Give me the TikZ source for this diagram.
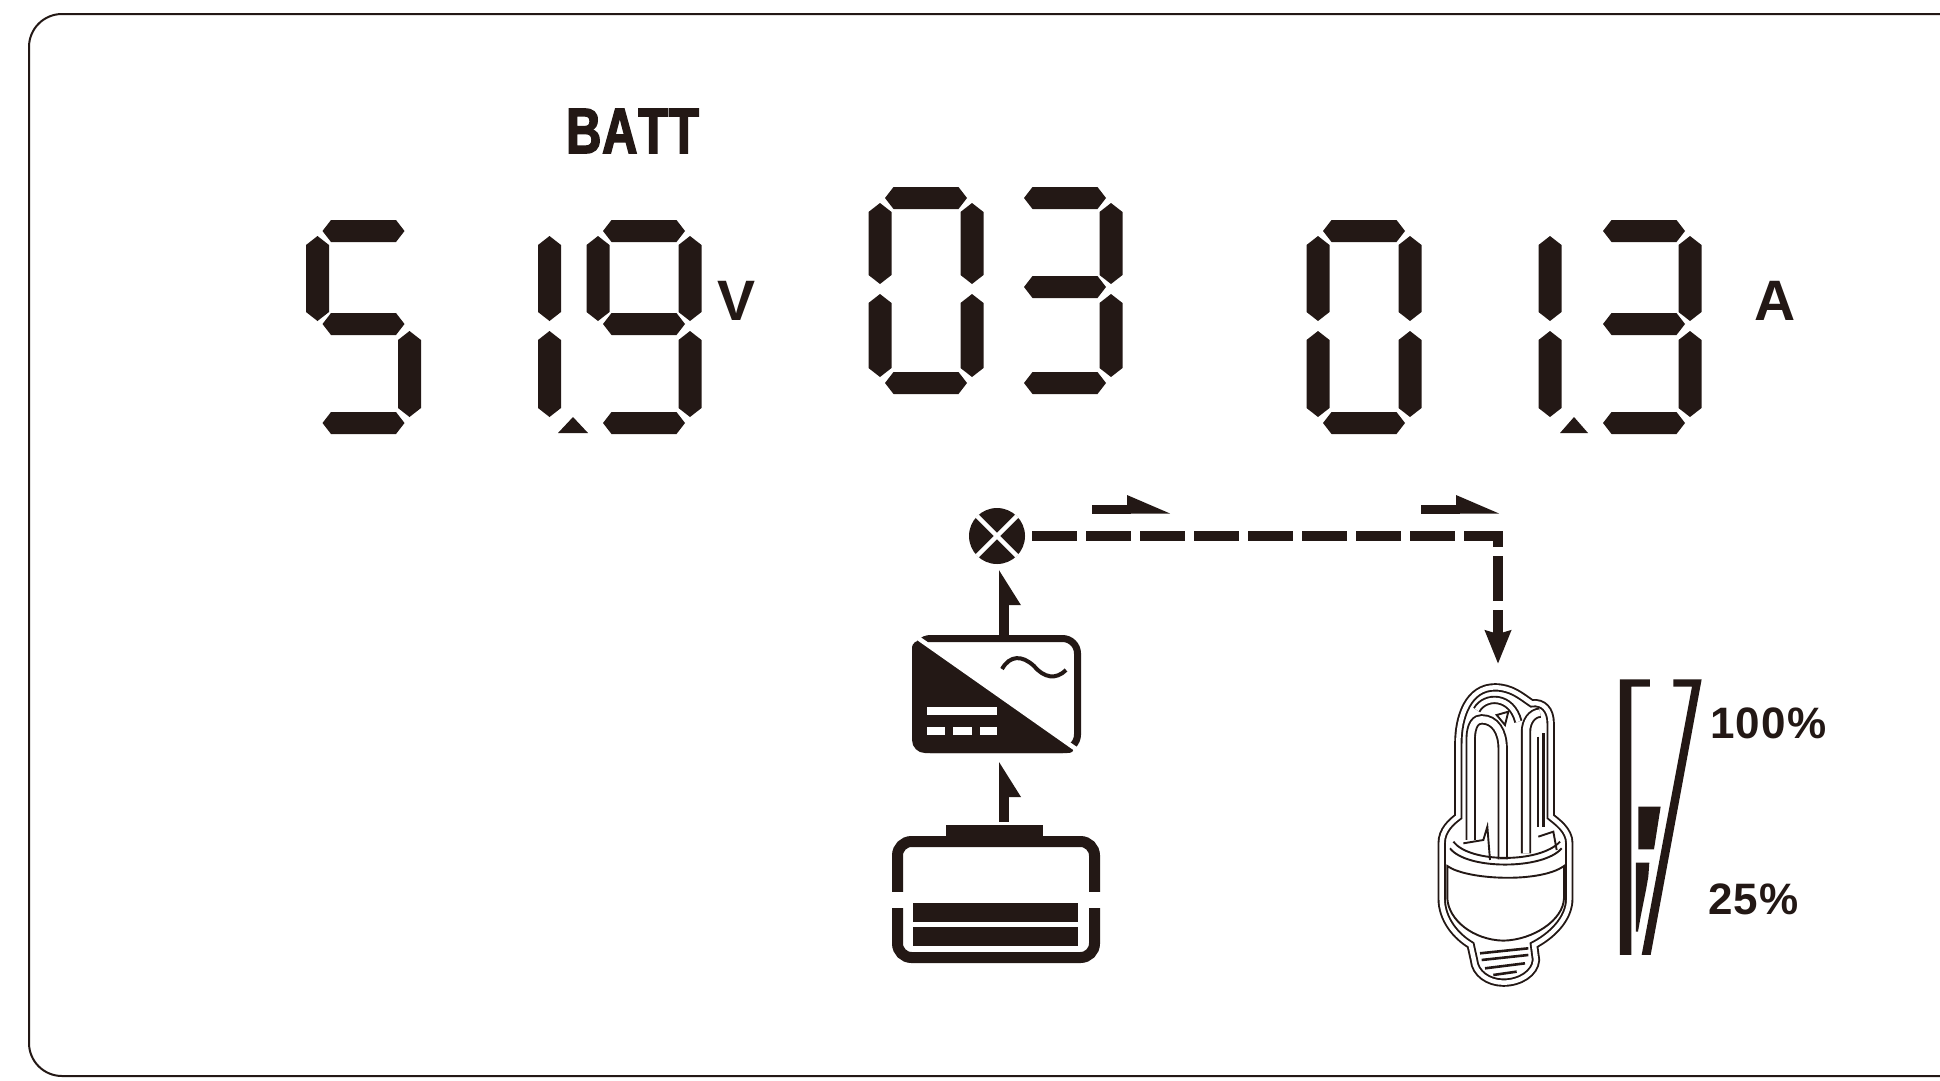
\documentclass[tikz,border=0pt]{standalone}
\usepackage{fontspec}
\setmainfont{Liberation Sans}
\newfontfamily\battfont[FakeStretch=0.76,FakeBold=2.5,LetterSpace=1.5,Kerning=Off]{Liberation Sans Bold}
\newfontfamily\unitfont{Liberation Sans Bold}
\newfontfamily\pctfont[LetterSpace=3]{Liberation Sans Bold}
\usepackage{tikz}
\usetikzlibrary{arrows.meta, positioning, calc}

\definecolor{lcdink}{HTML}{231815}

% one lcd bar, ends pointed
\newcommand{\lcdhbar}[3]{\fill[seg] (#1,#3) -- (#1+8.5,#3-11) -- (#2-8.5,#3-11) -- (#2,#3) -- (#2-8.5,#3+11) -- (#1+8.5,#3+11) -- cycle;}
\newcommand{\lcdvbar}[3]{\fill[seg] (#1,#2) -- (#1+11.5,#2+9) -- (#1+11.5,#3-9) -- (#1,#3) -- (#1-11.5,#3-9) -- (#1-11.5,#2+9) -- cycle;}
\newcommand{\lcda}{\lcdhbar{\digx+5}{\digx+87}{\digt}}
\newcommand{\lcdb}{\lcdvbar{\digx+92}{\digt+5}{\digm-3}}
\newcommand{\lcdc}{\lcdvbar{\digx+92}{\digm+7}{\digb-6}}
\newcommand{\lcdd}{\lcdhbar{\digx+5}{\digx+87}{\digb}}
\newcommand{\lcde}{\lcdvbar{\digx}{\digm+7}{\digb-6}}
\newcommand{\lcdf}{\lcdvbar{\digx}{\digt+5}{\digm-3}}
\newcommand{\lcdg}{\lcdhbar{\digx+5}{\digx+87}{\digm}}

% half head, one edge in line with the side of the shaft
\pgfdeclarearrow{
  name=HalfHead,
  parameters={\the\pgfarrowlength,\the\pgfarrowwidth,\the\pgflinewidth},
  setup code={
    \pgfarrowssettipend{0pt}
    \pgfarrowssetlineend{-.9\pgfarrowlength}
    \pgfarrowssetbackend{-\pgfarrowlength}
    \pgfarrowssavethe\pgfarrowlength
    \pgfarrowssavethe\pgfarrowwidth
  },
  drawing code={
    \pgfpathmoveto{\pgfqpoint{0pt}{.5\pgflinewidth}}
    \pgfpathlineto{\pgfqpoint{-\pgfarrowlength}{-\pgfarrowwidth}}
    \pgfpathlineto{\pgfqpoint{-\pgfarrowlength}{.5\pgflinewidth}}
    \pgfpathclose
    \pgfusepathqfill
  },
  defaults={length=35pt,width=16pt}
}

\begin{document}
\begin{tikzpicture}[
    x=1pt, y=-1pt,
    seg/.style={fill=lcdink, draw=none},
    unit/.style={anchor=base, inner sep=0pt, text=lcdink, font=\unitfont\fontsize{57}{57}\selectfont},
    pct/.style={anchor=base west, inner sep=0pt, text=lcdink, font=\pctfont\fontsize{44}{44}\selectfont},
    flow/.style={draw=lcdink, line width=10pt, dash pattern=on 45pt off 9pt, -{Stealth[length=33pt, width=25pt, inset=3pt]}},
    uparrow/.style={draw=lcdink, line width=10pt, -{HalfHead[length=35pt, width=17pt]}},
    sidearrow/.style={draw=lcdink, line width=9pt, -{HalfHead[length=43pt, width=14pt, swap]}},
    lampline/.style={draw=lcdink, line width=1.9pt},
    lamptube/.style={draw=lcdink, line width=1.9pt, double=white, double distance=4.5pt}
  ]
    \useasboundingbox (0,0) rectangle (1940,1080);
    \fill[white] (0,0) rectangle (1940,1080);

    % panel outline, runs off on the right
    \draw[lcdink, line width=2pt, rounded corners=33pt] (1941,14) -- (29,14) -- (29,1076) -- (1941,1076);

    % digits
    \foreach \digx/\digt/\digm/\digb/\segs in {
        317.5/231/324/423/{a,f,g,c,d},
        457.5/231/324/423/{b,c},
        598/231/324/423/{a,b,c,d,f,g},
        880/198/287/383/{a,b,c,d,e,f},
        1019/198/287/383/{a,b,c,d,g},
        1318/231/324/423/{a,b,c,d,e,f},
        1458/231/324/423/{b,c},
        1598/231/324/423/{a,b,c,d,g}} {
      \foreach \s in \segs {\csname lcd\s\endcsname}
    }
    \fill[seg] (558,433) -- (573,417) -- (588,433) -- cycle;
    \fill[seg] (1560,433) -- (1574,417) -- (1588,433) -- cycle;

    % labels
    \node[anchor=base west, inner sep=0pt, text=lcdink, font=\battfont\fontsize{64}{64}\selectfont] (batttext) at (566,153) {BATT};
    \node[unit] (volts) at (736.5,320) {V};
    \node[unit] (amps) at (1775,320) {A};
    \node[pct] (full) at (1710,738) {100\%};
    \node[pct] (quarter) at (1708,914) {25\%};

    % grid symbol
    \node[circle, fill=lcdink, minimum size=56pt, inner sep=0pt] (ac) at (997,536) {};
    \draw[white, line width=4.5pt] (ac.north west) -- (ac.south east);
    \draw[white, line width=4.5pt] (ac.north east) -- (ac.south west);

    % inverter
    \node[draw=lcdink, line width=7pt, rounded corners=15pt, minimum width=162pt, minimum height=111pt, inner sep=0pt] (inv) at (996.5,694) {};
    \fill[lcdink, rounded corners=13pt] (912,636) -- (912,753) -- (1080,753) -- cycle;
    \draw[white, line width=4.5pt] (913,634.5) -- (1078,750.5);
    \draw[lcdink, line width=4pt] (1002,669) .. controls (1010,655) and (1022,655) .. (1034,666) .. controls (1044,678) and (1056,680) .. (1066,670);
    \fill[white] (927,707) rectangle (997,715);
    \foreach \barx/\barw in {927/18, 953/19, 980/17} {
      \fill[white] (\barx,727) rectangle ++(\barw,8);
    }

    % battery
    \node[fill=lcdink, minimum width=97pt, minimum height=15pt, inner sep=0pt] (cap) at (994.5,832.5) {};
    \node[draw=lcdink, line width=11pt, rounded corners=14pt, minimum width=197pt, minimum height=116pt, inner sep=0pt] (batt) at (996,899.5) {};
    \fill[white] (885,892) rectangle (905,908);
    \fill[white] (1088,892) rectangle (1108,908);
    \fill[lcdink] (913,903) rectangle (1078,922);
    \fill[lcdink] (913,927) rectangle (1078,946);

    % connectors
    \draw[uparrow] ([xshift=9.5pt,yshift=3pt]cap.north) -- ([xshift=7.5pt,yshift=-9pt]inv.south);
    \draw[uparrow] ([xshift=7.5pt]inv.north) -- ([xshift=7pt,yshift=-6pt]ac.south);
    \coordinate (lampin) at (1498,664);
    \draw[flow, shorten <=7pt] (ac.east) -| (lampin);
    \coordinate (flowa) at (1092,509);
    \coordinate (flowb) at (1170,509);
    \coordinate (flowc) at (1421,509);
    \coordinate (flowd) at (1499,509);
    \draw[sidearrow] (flowa) -- (flowb);
    \draw[sidearrow] (flowc) -- (flowd);

    % lamp and level gauge, in units of a third of a pixel
    \begin{scope}[shift={(1400,660)}, x=0.3333pt, y=-0.3333pt]
      \draw[lamptube] (175,470) -- (175,250) .. controls (175,170) and (205,82) .. (285,82) .. controls (335,82) and (365,110) .. (395,130) .. controls (430,125) and (452,150) .. (452,190) -- (452,470) .. controls (470,485) and (508,510) .. (508,550) -- (508,715) .. controls (508,780) and (450,830) .. (402,855) -- (408,900) .. controls (405,940) and (360,968) .. (310,968) .. controls (265,968) and (225,940) .. (222,900) -- (212,855) .. controls (170,830) and (125,780) .. (125,715) -- (125,550) .. controls (125,510) and (155,485) .. (175,470) -- cycle;
      \draw[lamptube] (230,150) .. controls (255,105) and (335,105) .. (355,185);
      \draw[lampline] (290,165) -- (325,155) -- (315,195) -- cycle;
      \draw[lamptube, double distance=6.5pt] (212,540) -- (212,240) .. controls (212,190) and (230,178) .. (245,178) .. controls (285,178) and (308,215) .. (308,265) -- (308,598);
      \draw[lamptube, double distance=6.5pt] (378,580) -- (378,215) .. controls (378,185) and (395,160) .. (420,158);
      \draw[lampline] (415,230) -- (415,500);
      \draw[lampline, line width=2.8pt] (430,220) -- (430,500);
      \draw[lampline] (150,565) .. controls (200,630) and (430,630) .. (485,565);
      \draw[lampline] (160,545) .. controls (210,610) and (420,610) .. (480,545);
      \draw[lampline] (190,550) -- (250,540) -- (262,500) -- (270,600);
      \draw[lampline] (415,530) -- (460,515) -- (470,570);
      \draw[lampline] (142,618) .. controls (200,660) and (420,670) .. (492,618) -- (492,715) .. controls (490,780) and (400,840) .. (310,842) .. controls (220,840) and (145,780) .. (142,715) -- cycle;
      \foreach \ya/\yb/\xa/\xb in {880/865/240/385, 900/885/245/385, 925/910/255/375, 945/935/280/350} {
        \draw[lampline, line width=2.6pt] (\xa,\ya) -- (\xb,\yb);
      }
      \fill[lcdink] (660,58) -- (750,58) -- (750,80) -- (694,80) -- (694,885) -- (660,885) -- cycle;
      \fill[lcdink] (820,58) -- (905,58) -- (752,885) -- (725,885) -- (876,80) -- (820,80) -- cycle;
      \fill[lcdink] (715,440) -- (782,440) -- (762,568) -- (715,568) -- cycle;
      \fill[lcdink] (708,608) -- (748,608) -- (745,650) -- (738,690) -- (730,730) -- (722,770) -- (714,815) -- (708,815) -- cycle;
    \end{scope}
  \end{tikzpicture}
\end{document}
